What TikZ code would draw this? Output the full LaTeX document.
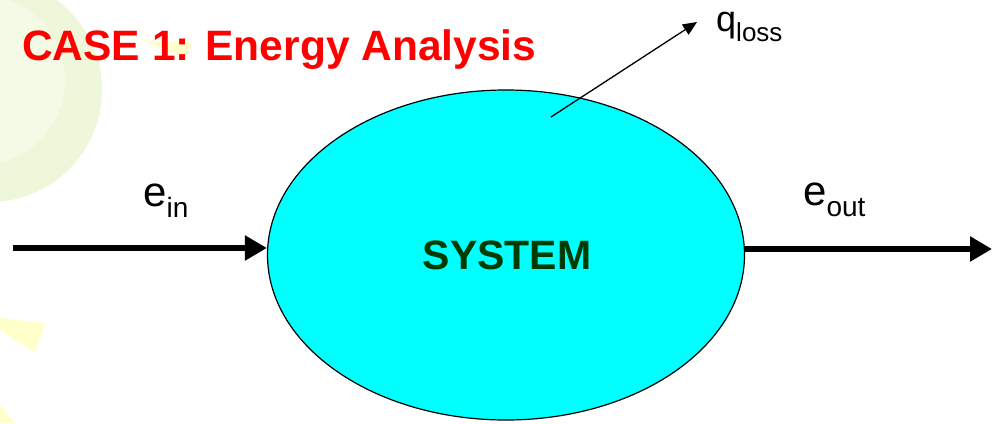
\documentclass[tikz,border=0pt]{standalone}
\usepackage{fontspec}
\setmainfont{Liberation Sans}
\usetikzlibrary{arrows.meta,shapes.geometric}
\definecolor{sysfill}{RGB}{0,255,255}
\definecolor{sysgreen}{RGB}{0,60,0}
\definecolor{bggreen}{RGB}{238,247,218}
\definecolor{bggreenlt}{RGB}{243,250,230}
\definecolor{bgyellow}{RGB}{255,255,204}
\newcommand{\subtxt}[2]{\raisebox{-#1}{\fontsize{28}{28}\selectfont #2}}
\tikzset{
  flow/.style={line width=6.5pt,-{Triangle[length=22pt,width=24pt]}},
  thinarrow/.style={line width=1.3pt,-{Triangle[length=14pt,width=12pt]}},
  lbl/.style={font=\fontsize{42}{42}\selectfont,inner sep=0pt,anchor=base west},
}
\begin{document}
\begin{tikzpicture}[x=1pt,y=-1pt]
\useasboundingbox (0,0) rectangle (992,423);
% background decoration
\fill[bggreen] (-10,90) circle (112);
\fill[bggreenlt] (-20,80) circle (85);
\fill[bgyellow] (140,40) -- (193,43) -- (185,57) -- cycle;
\fill[bgyellow] (0,318) -- (45,323) -- (35,353) -- (0,330) -- cycle;
\fill[bgyellow] (0,405) -- (15,423) -- (0,423) -- cycle;
% title
\node[anchor=base west,text=red,font=\bfseries\fontsize{42.5}{42.5}\selectfont,inner sep=0pt] (title) at (22,60) {CASE 1: Energy Analysis};
% system
\node[ellipse,draw=black,line width=1.2pt,fill=sysfill,minimum width=477pt,minimum height=330pt,inner sep=0pt] (sys) at (506,255) {};
\node[anchor=base,inner sep=0pt,text=sysgreen,font=\bfseries\fontsize{41}{41}\selectfont] (systxt) at (507,269) {SYSTEM};
% flows
\coordinate (inS) at (13,248);
\coordinate (outE) at (992,249);
\draw[flow] (inS) -- (inS -| sys.west);
\draw[flow] (outE -| sys.east) -- (outE);
\node[lbl] (ein) at (143,206) {e\subtxt{11pt}{in}};
\node[lbl] (eout) at (803,205) {e\subtxt{11pt}{out}};
% loss
\coordinate (qs) at (551,117);
\coordinate (qe) at (697,22);
\draw[thinarrow] (qs) -- (qe);
\node[anchor=base west,inner sep=0pt,font=\fontsize{36}{36}\selectfont] (q) at (716,31) {q\raisebox{-10pt}{\fontsize{26}{26}\selectfont loss}};
\end{tikzpicture}
\end{document}
